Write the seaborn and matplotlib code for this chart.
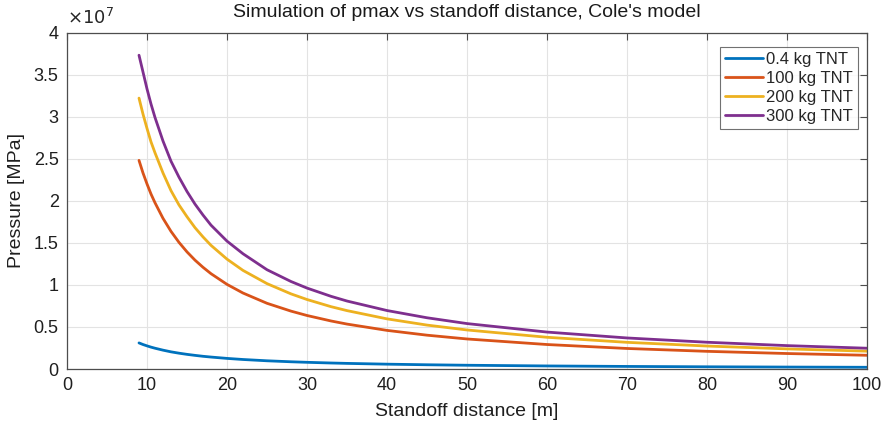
import numpy as np
import pandas as pd
import matplotlib
matplotlib.use("Agg")
import matplotlib.pyplot as plt
import seaborn as sns
from matplotlib.ticker import FuncFormatter, MultipleLocator

# Standoff distance [m]
distance = [9, 9.5, 10, 10.5, 11, 12, 13, 14, 15, 16, 17, 18, 20, 22, 25, 28, 30, 33, 35,
            40, 45, 50, 60, 70, 80, 90, 100]
# Peak pressure [Pa]
p_04kg = [3.10e6, 2.91e6, 2.75e6, 2.60e6, 2.47e6, 2.24e6, 2.04e6, 1.88e6, 1.74e6, 1.62e6,
          1.51e6, 1.42e6, 1.26e6, 1.13e6, 0.976e6, 0.859e6, 0.795e6, 0.713e6, 0.667e6,
          0.574e6, 0.503e6, 0.446e6, 0.363e6, 0.305e6, 0.262e6, 0.230e6, 0.204e6]
p_100kg = [24.8e6, 23.3e6, 22.0e6, 20.8e6, 19.76e6, 17.91e6, 16.36e6, 15.05e6, 13.92e6, 12.94e6,
           12.09e6, 11.33e6, 10.06e6, 9.03e6, 7.81e6, 6.88e6, 6.36e6, 5.71e6, 5.34e6,
           4.59e6, 4.02e6, 3.57e6, 2.91e6, 2.44e6, 2.10e6, 1.84e6, 1.63e6]
p_200kg = [32.2e6, 30.3e6, 28.6e6, 27.0e6, 25.7e6, 23.3e6, 21.2e6, 19.5e6, 18.1e6, 16.8e6,
           15.7e6, 14.7e6, 13.06e6, 11.72e6, 10.15e6, 8.93e6, 8.26e6, 7.41e6, 6.94e6,
           5.96e6, 5.22e6, 4.64e6, 3.77e6, 3.17e6, 2.73e6, 2.39e6, 2.12e6]
p_300kg = [37.3e6, 35.3e6, 33.3e6, 31.5e6, 29.9e6, 27.1e6, 24.7e6, 22.8e6, 21.1e6, 19.6e6,
           18.3e6, 17.1e6, 15.2e6, 13.7e6, 11.8e6, 10.4e6, 9.62e6, 8.64e6, 8.08e6,
           6.95e6, 6.09e6, 5.40e6, 4.39e6, 3.69e6, 3.18e6, 2.78e6, 2.47e6]
series_labels = ["0.4 kg TNT", "100 kg TNT", "200 kg TNT", "300 kg TNT"]
colors = ["#0072BD", "#D95319", "#EDB120", "#7E2F8E"]

frames = []
for lab, vals in zip(series_labels, [p_04kg, p_100kg, p_200kg, p_300kg]):
    frames.append(pd.DataFrame({"distance": distance, "pressure": vals, "charge": lab}))
df = pd.concat(frames, ignore_index=True)

sns.set_style("white")
plt.rcParams["font.family"] = ["Liberation Sans", "DejaVu Sans"]

fig = plt.figure(figsize=(8.83, 4.26), dpi=100)
ax = fig.add_axes([67 / 883, 1 - 369 / 426, 800 / 883, 336.5 / 426])

sns.lineplot(data=df, x="distance", y="pressure", hue="charge", hue_order=series_labels,
             palette=colors, linewidth=2.0, ax=ax, legend=True)

ax.set_xlim(0, 100)
ax.set_ylim(0, 4e7)
ax.xaxis.set_major_locator(MultipleLocator(10))
ax.yaxis.set_major_locator(MultipleLocator(0.5e7))
ax.yaxis.set_major_formatter(FuncFormatter(lambda v, p: f"{v / 1e7:g}"))
ax.grid(True, color="#e3e3e3", linewidth=0.8)
ax.set_axisbelow(True)
for s in ax.spines.values():
    s.set_color("#4d4d4d")
    s.set_linewidth(0.9)
ax.tick_params(direction="in", length=5, width=0.8, color="#4d4d4d", labelsize=13,
               labelcolor="#1f1f1f", top=True, right=True, pad=6)

ax.set_xlabel("Standoff distance [m]", fontsize=14, color="#1f1f1f", labelpad=6)
ax.set_ylabel("Pressure [MPa]", fontsize=14, color="#1f1f1f", labelpad=6)
ax.set_title("Simulation of pmax vs standoff distance, Cole's model", fontsize=14,
             color="#1a1a1a", pad=11)
ax.text(0.0, 1.012, r"$\times10^{7}$", transform=ax.transAxes, fontsize=13,
        color="#262626", ha="left", va="bottom")

leg = ax.legend(loc="upper right", bbox_to_anchor=(0.993, 0.968), fontsize=12, frameon=True,
                handlelength=2.3, handletextpad=0.2, borderpad=0.3, labelspacing=0.25,
                fancybox=False, edgecolor="#4d4d4d", borderaxespad=0.2)
leg.get_frame().set_linewidth(0.8)
for line in leg.get_lines():
    line.set_linewidth(2.0)

fig.savefig("out.png", dpi=100)
